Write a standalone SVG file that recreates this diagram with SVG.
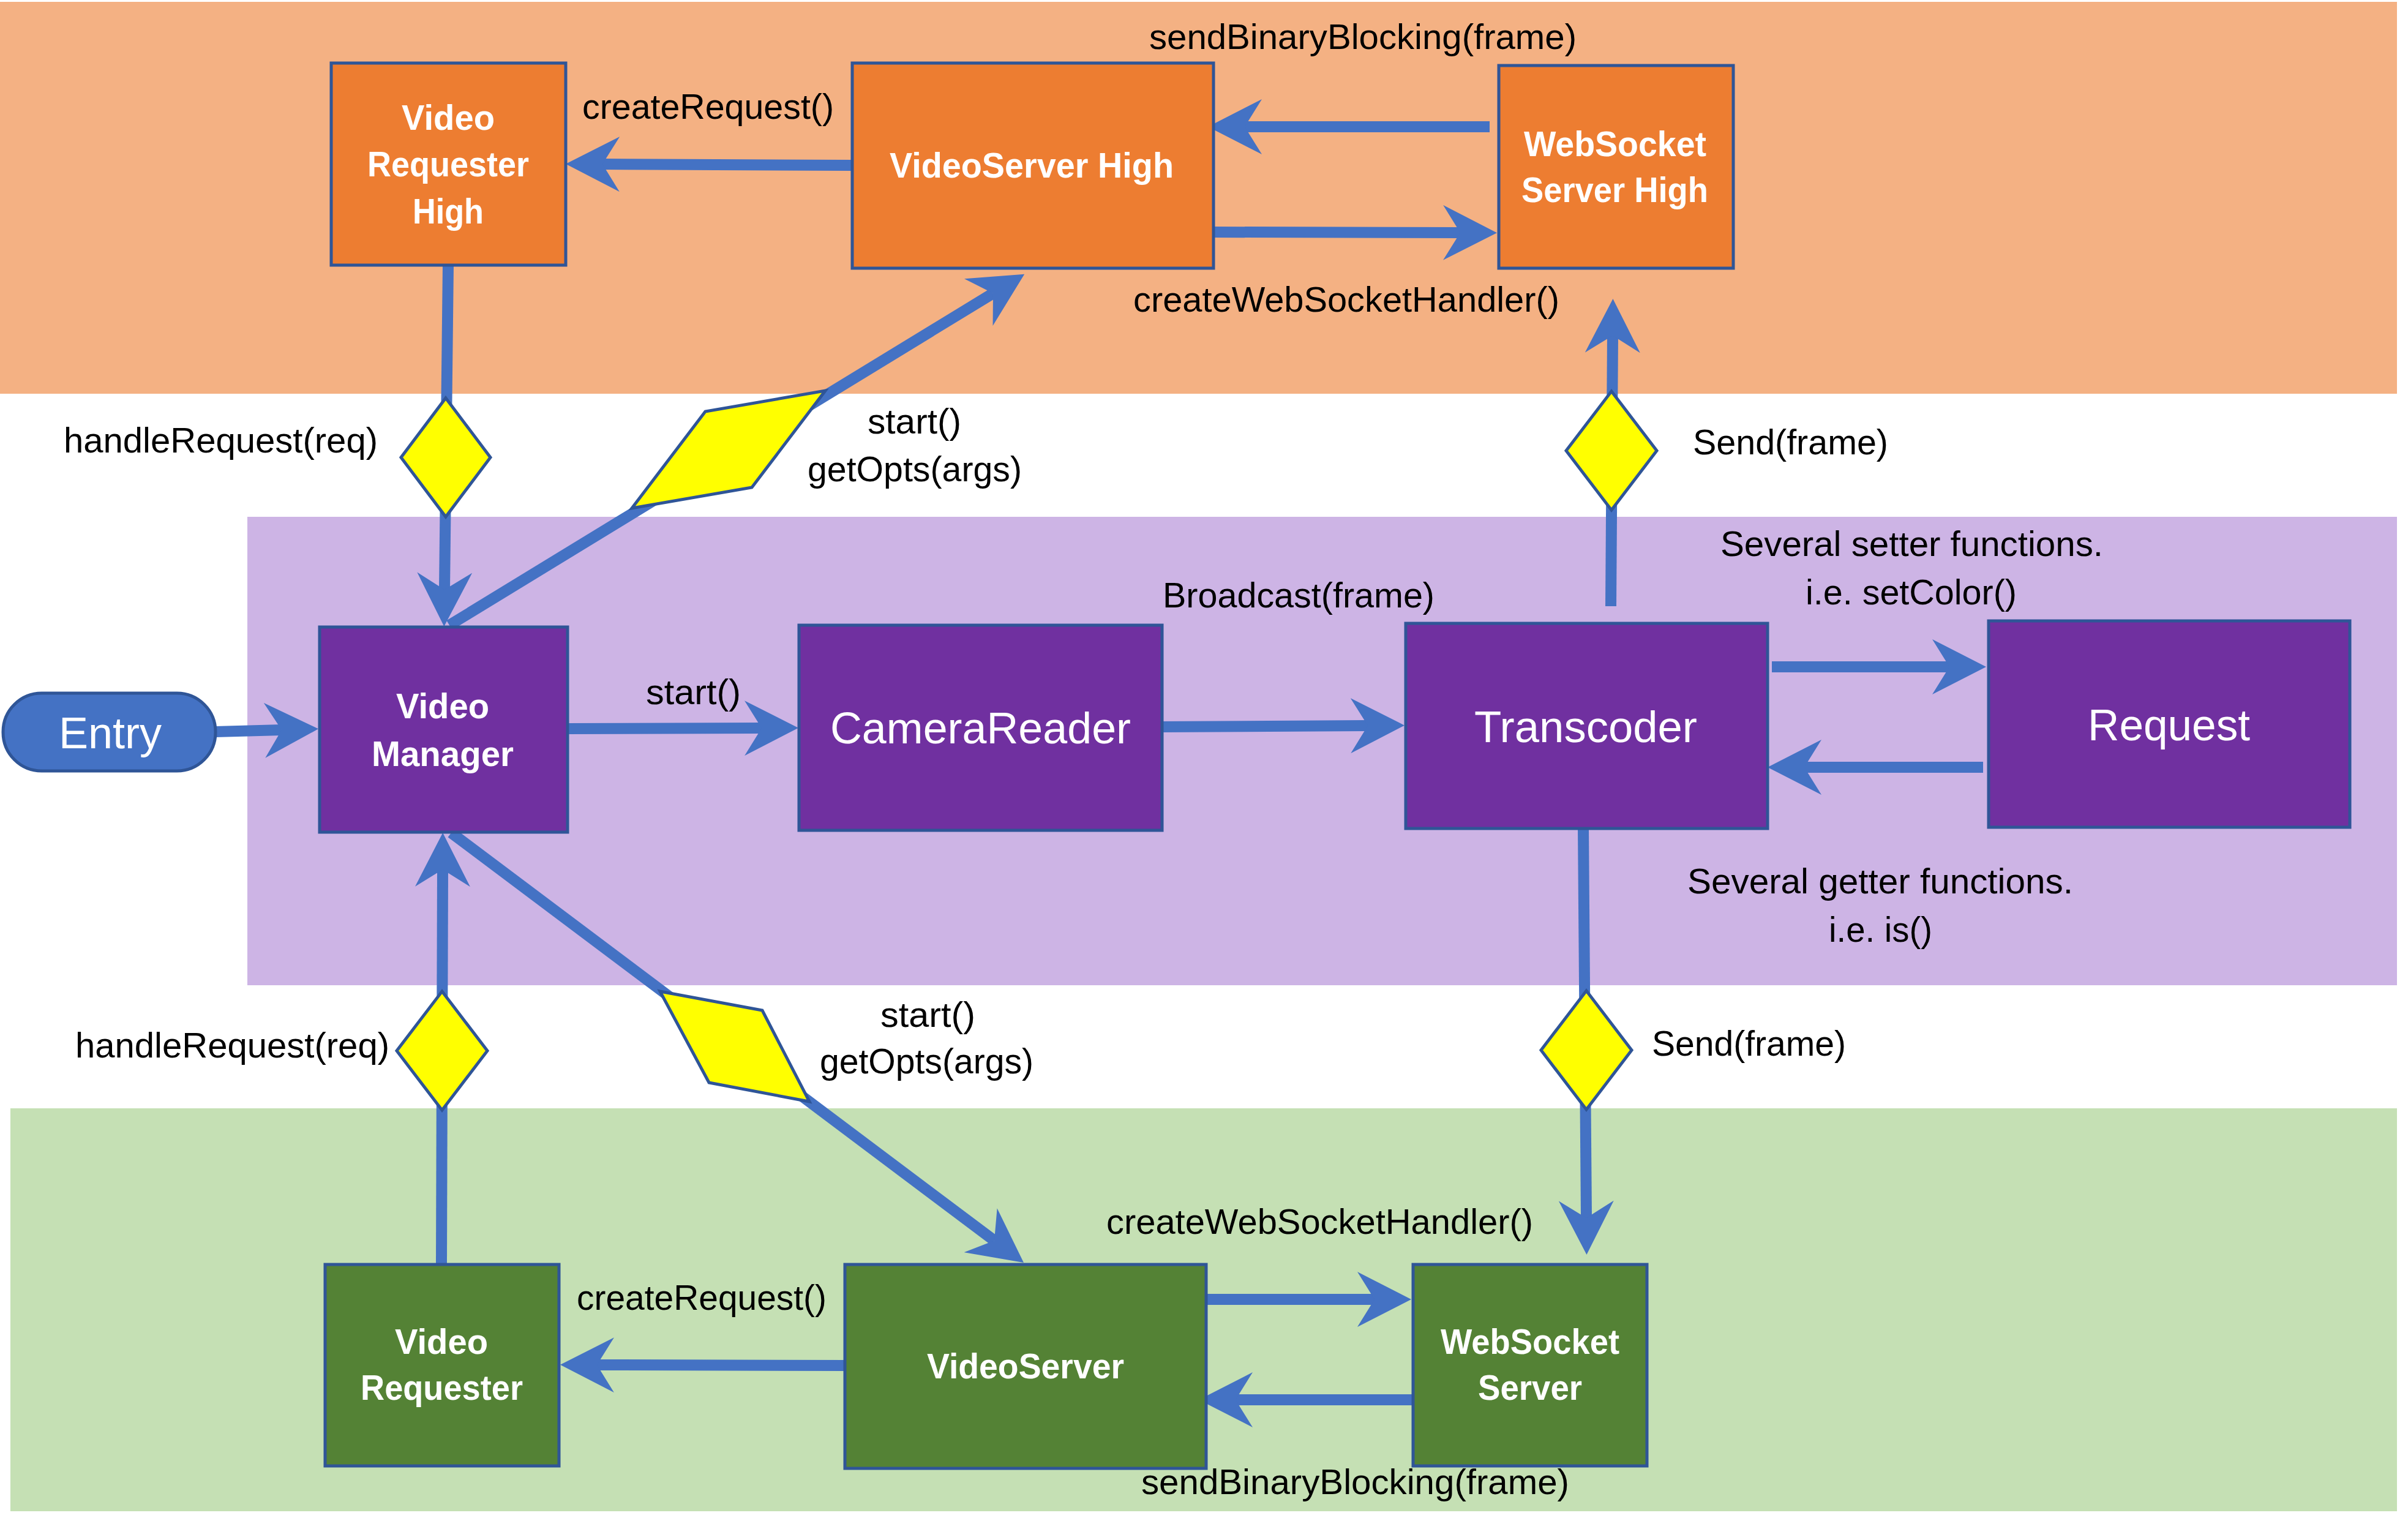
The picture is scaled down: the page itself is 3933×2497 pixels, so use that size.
<svg xmlns="http://www.w3.org/2000/svg" width="3933" height="2497" viewBox="0 0 3933 2497">
<style>
.lbl{font-family:"Liberation Sans",Arial,sans-serif;font-size:57px;fill:#000}
.nb{font-family:"Liberation Sans",Arial,sans-serif;font-size:57px;font-weight:bold;fill:#fff}
.big{font-family:"Liberation Sans",Arial,sans-serif;font-size:72px;fill:#fff}
.node{stroke:#2F5597;stroke-width:5}
.or{fill:#ED7D31}
.pu{fill:#7030A0}
.gr{fill:#548235}
.con{stroke:#4472C4;stroke-width:18;fill:none;marker-end:url(#ah)}
.plain{stroke:#4472C4;stroke-width:18;fill:none}
.dia{fill:#FFFF00;stroke:#2F5597;stroke-width:5;stroke-linejoin:miter}
</style>
<defs>
<marker id="ah" markerUnits="userSpaceOnUse" viewBox="0 0 88 90" markerWidth="88" markerHeight="90" refX="28" refY="45" orient="auto">
<path d="M88,45 L0,0 L28,45 L0,90 Z" fill="#4472C4"/>
</marker>
</defs>
<rect width="3933" height="2497" fill="#fff"/>
<g id="bands">
<rect x="0" y="3" width="3915" height="640" fill="#F4B183"/>
<rect x="404" y="844" width="3511" height="765" fill="#CDB4E5"/>
<rect x="17" y="1810" width="3898" height="658" fill="#C5E0B4"/>
</g>
<g id="connectors">
<line class="con" x1="2433" y1="207" x2="2033" y2="207"/>
<line class="con" x1="1982" y1="379" x2="2385" y2="380"/>
<line class="con" x1="1392" y1="270" x2="984" y2="268"/>
<line class="con" x1="732" y1="433" x2="726" y2="963"/>
<line class="con" x1="734" y1="1021" x2="1622" y2="479"/>
<line class="con" x1="352" y1="1195" x2="460" y2="1192"/>
<line class="con" x1="927" y1="1190" x2="1244" y2="1189"/>
<line class="con" x1="1898" y1="1187" x2="2234" y2="1185"/>
<line class="con" x1="2894" y1="1089" x2="3184" y2="1089"/>
<line class="con" x1="3239" y1="1253" x2="2947" y2="1253"/>
<line class="con" x1="2631" y1="990" x2="2634" y2="548"/>
<line class="con" x1="2586" y1="1353" x2="2591" y2="1989"/>
<line class="con" x1="737" y1="1360" x2="1624" y2="2026"/>
<line class="con" x1="721" y1="2064" x2="723" y2="1420"/>
<line class="con" x1="1380" y1="2230" x2="975" y2="2229"/>
<line class="con" x1="1970" y1="2122" x2="2245" y2="2122"/>
<line class="con" x1="2308" y1="2286" x2="2018" y2="2286"/>
</g>
<g id="diamonds">
<polygon class="dia" points="728,650 801,747 728,844 655,747"/>
<polygon class="dia" points="1032,830 1152,672 1348,638 1228,796"/>
<polygon class="dia" points="2632,639 2706,736 2632,833 2558,736"/>
<polygon class="dia" points="722,1619 796,1716 722,1813 648,1716"/>
<polygon class="dia" points="1078,1619 1245,1650 1322,1799 1158,1768"/>
<polygon class="dia" points="2591,1618 2665,1715 2591,1812 2517,1715"/>
</g>
<g id="node-video-requester-high">
<rect class="node or" x="541" y="103" width="383" height="330"/>
<text class="nb" x="656" y="212" textLength="152" lengthAdjust="spacingAndGlyphs">Video</text>
<text class="nb" x="600" y="288" textLength="264" lengthAdjust="spacingAndGlyphs">Requester</text>
<text class="nb" x="674" y="365" textLength="116" lengthAdjust="spacingAndGlyphs">High</text>
</g>
<g id="node-videoserver-high">
<rect class="node or" x="1392" y="103" width="590" height="335"/>
<text class="nb" x="1453" y="290" textLength="464" lengthAdjust="spacingAndGlyphs">VideoServer High</text>
</g>
<g id="node-websocket-server-high">
<rect class="node or" x="2448" y="107" width="383" height="331"/>
<text class="nb" x="2489" y="255" textLength="298" lengthAdjust="spacingAndGlyphs">WebSocket</text>
<text class="nb" x="2485" y="330" textLength="305" lengthAdjust="spacingAndGlyphs">Server High</text>
</g>
<g id="node-entry">
<rect x="5" y="1132" width="347" height="127" rx="63" ry="63" fill="#4472C4" stroke="#2F5597" stroke-width="5"/>
<text class="big" x="96" y="1222" textLength="168" lengthAdjust="spacingAndGlyphs">Entry</text>
</g>
<g id="node-video-manager">
<rect class="node pu" x="522" y="1024" width="405" height="335"/>
<text class="nb" x="647" y="1173" textLength="152" lengthAdjust="spacingAndGlyphs">Video</text>
<text class="nb" x="607" y="1251" textLength="232" lengthAdjust="spacingAndGlyphs">Manager</text>
</g>
<g id="node-camerareader">
<rect class="node pu" x="1305" y="1021" width="593" height="335"/>
<text class="big" x="1356" y="1214" textLength="491" lengthAdjust="spacingAndGlyphs">CameraReader</text>
</g>
<g id="node-transcoder">
<rect class="node pu" x="2296" y="1018" width="591" height="335"/>
<text class="big" x="2408" y="1212" textLength="364" lengthAdjust="spacingAndGlyphs">Transcoder</text>
</g>
<g id="node-request">
<rect class="node pu" x="3248" y="1014" width="590" height="337"/>
<text class="big" x="3410" y="1209" textLength="265" lengthAdjust="spacingAndGlyphs">Request</text>
</g>
<g id="node-video-requester">
<rect class="node gr" x="531" y="2065" width="382" height="329"/>
<text class="nb" x="645" y="2211" textLength="152" lengthAdjust="spacingAndGlyphs">Video</text>
<text class="nb" x="589" y="2286" textLength="265" lengthAdjust="spacingAndGlyphs">Requester</text>
</g>
<g id="node-videoserver">
<rect class="node gr" x="1380" y="2065" width="590" height="333"/>
<text class="nb" x="1514" y="2251" textLength="322" lengthAdjust="spacingAndGlyphs">VideoServer</text>
</g>
<g id="node-websocket-server">
<rect class="node gr" x="2308" y="2065" width="382" height="329"/>
<text class="nb" x="2353" y="2211" textLength="292" lengthAdjust="spacingAndGlyphs">WebSocket</text>
<text class="nb" x="2414" y="2286" textLength="170" lengthAdjust="spacingAndGlyphs">Server</text>
</g>
<g id="labels">
<text class="lbl" x="951" y="194" textLength="411" lengthAdjust="spacingAndGlyphs">createRequest()</text>
<text class="lbl" x="1877" y="80" textLength="698" lengthAdjust="spacingAndGlyphs">sendBinaryBlocking(frame)</text>
<text class="lbl" x="1851" y="509" textLength="696" lengthAdjust="spacingAndGlyphs">createWebSocketHandler()</text>
<text class="lbl" x="104" y="739" textLength="513" lengthAdjust="spacingAndGlyphs">handleRequest(req)</text>
<text class="lbl" x="1417" y="708" textLength="153" lengthAdjust="spacingAndGlyphs">start()</text>
<text class="lbl" x="1319" y="786" textLength="350" lengthAdjust="spacingAndGlyphs">getOpts(args)</text>
<text class="lbl" x="2765" y="742" textLength="319" lengthAdjust="spacingAndGlyphs">Send(frame)</text>
<text class="lbl" x="2810" y="908" textLength="625" lengthAdjust="spacingAndGlyphs">Several setter functions.</text>
<text class="lbl" x="2949" y="987" textLength="345" lengthAdjust="spacingAndGlyphs">i.e. setColor()</text>
<text class="lbl" x="1899" y="992" textLength="444" lengthAdjust="spacingAndGlyphs">Broadcast(frame)</text>
<text class="lbl" x="1055" y="1150" textLength="155" lengthAdjust="spacingAndGlyphs">start()</text>
<text class="lbl" x="2756" y="1459" textLength="630" lengthAdjust="spacingAndGlyphs">Several getter functions.</text>
<text class="lbl" x="2987" y="1538" textLength="169" lengthAdjust="spacingAndGlyphs">i.e. is()</text>
<text class="lbl" x="123" y="1727" textLength="513" lengthAdjust="spacingAndGlyphs">handleRequest(req)</text>
<text class="lbl" x="1438" y="1677" textLength="155" lengthAdjust="spacingAndGlyphs">start()</text>
<text class="lbl" x="1339" y="1753" textLength="349" lengthAdjust="spacingAndGlyphs">getOpts(args)</text>
<text class="lbl" x="2698" y="1724" textLength="317" lengthAdjust="spacingAndGlyphs">Send(frame)</text>
<text class="lbl" x="1807" y="2015" textLength="697" lengthAdjust="spacingAndGlyphs">createWebSocketHandler()</text>
<text class="lbl" x="942" y="2139" textLength="408" lengthAdjust="spacingAndGlyphs">createRequest()</text>
<text class="lbl" x="1864" y="2440" textLength="699" lengthAdjust="spacingAndGlyphs">sendBinaryBlocking(frame)</text>
</g>
</svg>
